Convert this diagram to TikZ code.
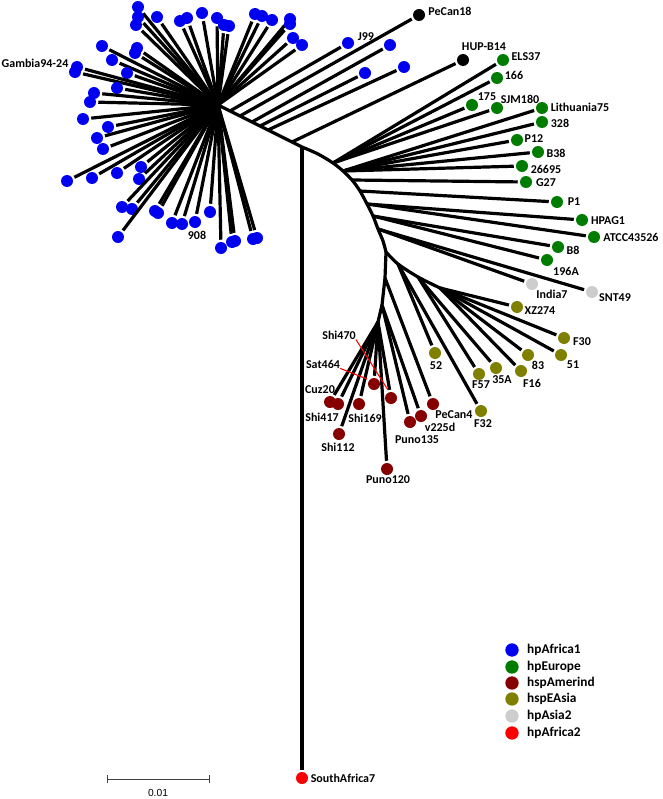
\documentclass[tikz,border=0pt]{standalone}
\usepackage{fontspec}
\setmainfont{Carlito}
\newfontfamily\barfont{Liberation Sans}
\usetikzlibrary{positioning,arrows.meta}
\definecolor{afrone}{RGB}{0,0,240}
\definecolor{europe}{RGB}{0,125,0}
\definecolor{amerind}{RGB}{135,0,0}
\definecolor{eastasia}{RGB}{128,128,0}
\definecolor{asiatwo}{RGB}{205,205,205}
\definecolor{afrtwo}{RGB}{250,0,0}
\begin{document}
\begin{tikzpicture}[
        x=0.75pt, y=-0.75pt,
        trunk/.style={draw, line width=2.4pt, line join=round},
        twig/.style={draw, line width=2.4pt, shorten >=1.5pt},
        dotbase/.style={circle, inner sep=0pt, minimum size=9pt},
        afr1/.style={dotbase, fill=afrone},
        eur/.style={dotbase, fill=europe},
        ame/.style={dotbase, fill=amerind},
        eas/.style={dotbase, fill=eastasia},
        as2/.style={dotbase, fill=asiatwo},
        afr2/.style={dotbase, fill=afrtwo},
        unk/.style={dotbase, fill=black},
        legdot/.style={minimum size=10pt},
        lab/.style={font=\bfseries\fontsize{9}{10}\selectfont, inner sep=0pt},
        keylab/.style={font=\bfseries\fontsize{10}{12}\selectfont, inner sep=0pt, anchor=west},
        pointer/.style={draw=red, line width=0.8pt},
        scalebar/.style={draw=black!75, line width=0.75pt, {Bar[width=6pt]}-{Bar[width=6pt]}},
    ]
    \useasboundingbox (0,0) rectangle (662,799);

    % inner nodes
    \coordinate (hub) at (218,105);
    \coordinate (r0) at (302,147);
    \coordinate (d1) at (230,111);
    \coordinate (d2) at (240,116);
    \coordinate (d3) at (252,122);
    \coordinate (d4) at (260,126);
    \coordinate (d5) at (268,130);
    \coordinate (d6) at (292,142);
    \coordinate (a1) at (318,154);
    \coordinate (a2) at (333,163);
    \coordinate (a3) at (343,171);
    \coordinate (a4) at (352,180);
    \coordinate (a5) at (360,191);
    \coordinate (a6) at (367,204);
    \coordinate (a7) at (373,216);
    \coordinate (a8) at (378,229);
    \coordinate (a9) at (383,241);
    \coordinate (nb) at (386,252);
    \coordinate (e1) at (398,264);
    \coordinate (e2) at (418,277);
    \coordinate (e3) at (440,288);
    \coordinate (m1) at (385,278);
    \coordinate (m2) at (382,305);
    \coordinate (m3) at (378,322);

    \draw[trunk] (hub) -- (r0);
    \draw[trunk] plot[smooth] coordinates {(r0) (a1) (a2) (a3) (a4) (a5) (a6) (a7) (a8) (a9) (nb)};
    \draw[trunk] plot[smooth] coordinates {(nb) (e1) (e2) (e3)};
    \draw[trunk] (nb) -- (m1) -- (m2) -- (m3);

    % hpAfrica1 star
    \foreach \px/\py [count=\i] in {138/7,138/17,136/25,157/17,180/21,187/18,202/13,217/18,224/25,229/26,
        255/14,262/16,272/20,290/19,290/24,293/38,302/45,102/46,137/48,135/53,112/60,75/72,127/73,
        117/88,94/93,90/102,83/119,108/127,97/138,103/149,67/181,92/178,117/173,141/167,139/179,
        122/207,132/209,155/211,158/213,172/223,182/224,210/212,118/237,221/248,232/242,235/241,
        253/239,257/238}
    {
        \node[afr1] (b\i) at (\px,\py) {};
        \draw[twig] (hub) -- (b\i);
    }
    \node[afr1] (gam) at (77,67) {};
    \draw[twig] (hub) -- (gam);
    \node[lab] (lgam) at (35,63) {Gambia94-24};
    \node[afr1] (n908) at (195,222) {};
    \draw[twig] (hub) -- (n908);
    \node[lab] (ln908) at (197,235) {908};
    \node[afr1] (j99) at (348,43) {};
    \draw[twig] (d1) -- (j99);
    \node[lab] (lj99) at (366,37) {J99};
    \node[afr1] (bj1) at (390,45) {};
    \draw[twig] (d3) -- (bj1);
    \node[afr1] (bj2) at (365,73) {};
    \draw[twig] (d4) -- (bj2);
    \node[afr1] (bj3) at (404,67) {};
    \draw[twig] (d5) -- (bj3);

    % unassigned
    \node[unk] (pecan18) at (419,15) {};
    \draw[twig] (d2) -- (pecan18);
    \node[lab] (lpecan18) at (450,11) {PeCan18};
    \node[unk] (hupb14) at (463,60) {};
    \draw[twig] (d6) -- (hupb14);
    \node[lab] (lhupb14) at (484,47) {HUP-B14};

    % hpEurope
    \node[eur] (els37) at (503,60) {};
    \draw[twig] (a2) -- (els37);
    \node[lab] (lels37) at (526,57) {ELS37};
    \node[eur] (g166) at (497,78) {};
    \draw[twig] (a2) -- (g166);
    \node[lab] (lg166) at (514,75) {166};
    \node[eur] (g175) at (472,105) {};
    \draw[twig] (a2) -- (g175);
    \node[lab] (lg175) at (487,97) {175};
    \node[eur] (sjm180) at (497,108) {};
    \draw[twig] (a2) -- (sjm180);
    \node[lab] (lsjm180) at (520,99) {SJM180};
    \node[eur] (lith75) at (542,108) {};
    \draw[twig] (a3) -- (lith75);
    \node[lab] (llith75) at (580,107) {Lithuania75};
    \node[eur] (g328) at (542,122) {};
    \draw[twig] (a3) -- (g328);
    \node[lab] (lg328) at (560,123) {328};
    \node[eur] (p12) at (517,140) {};
    \draw[twig] (a3) -- (p12);
    \node[lab] (lp12) at (534,139) {P12};
    \node[eur] (b38) at (538,152) {};
    \draw[twig] (a3) -- (b38);
    \node[lab] (lb38) at (556,153) {B38};
    \node[eur] (g26695) at (522,166) {};
    \draw[twig] (a3) -- (g26695);
    \node[lab] (lg26695) at (546,169) {26695};
    \node[eur] (g27) at (526,182) {};
    \draw[twig] (a4) -- (g27);
    \node[lab] (lg27) at (546,183) {G27};
    \node[eur] (p1) at (557,202) {};
    \draw[twig] (a5) -- (p1);
    \node[lab] (lp1) at (574,202) {P1};
    \node[eur] (hpag1) at (582,220) {};
    \draw[twig] (a6) -- (hpag1);
    \node[lab] (lhpag1) at (608,221) {HPAG1};
    \node[eur] (atcc) at (594,237) {};
    \draw[twig] (a6) -- (atcc);
    \node[lab] (latcc) at (631,237) {ATCC43526};
    \node[eur] (b8) at (558,247) {};
    \draw[twig] (a7) -- (b8);
    \node[lab] (lb8) at (573,250) {B8};
    \node[eur] (g196a) at (547,260) {};
    \draw[twig] (a7) -- (g196a);
    \node[lab] (lg196a) at (566,271) {196A};

    % hpAsia2
    \node[as2] (india7) at (532,284) {};
    \draw[twig] (a8) -- (india7);
    \node[lab] (lindia7) at (552,294) {India7};
    \node[as2] (snt49) at (592,292) {};
    \draw[twig] (a8) -- (snt49);
    \node[lab] (lsnt49) at (615,298) {SNT49};

    % hspEAsia
    \node[eas] (xz274) at (517,307) {};
    \draw[twig] (e3) -- (xz274);
    \node[lab] (lxz274) at (540,311) {XZ274};
    \node[eas] (f30) at (564,338) {};
    \draw[twig] (e3) -- (f30);
    \node[lab] (lf30) at (582,342) {F30};
    \node[eas] (e51) at (561,355) {};
    \draw[twig] (e3) -- (e51);
    \node[lab] (le51) at (573,365) {51};
    \node[eas] (e83) at (528,355) {};
    \draw[twig] (e3) -- (e83);
    \node[lab] (le83) at (538,365) {83};
    \node[eas] (f16) at (521,371) {};
    \draw[twig] (e3) -- (f16);
    \node[lab] (lf16) at (532,383) {F16};
    \node[eas] (a35) at (496,368) {};
    \draw[twig] (e2) -- (a35);
    \node[lab] (la35) at (502,380) {35A};
    \node[eas] (f57) at (479,374) {};
    \draw[twig] (e2) -- (f57);
    \node[lab] (lf57) at (481,385) {F57};
    \node[eas] (f32) at (481,411) {};
    \draw[twig] (e1) -- (f32);
    \node[lab] (lf32) at (483,424) {F32};
    \node[eas] (e52) at (435,353) {};
    \draw[twig] (e1) -- (e52);
    \node[lab] (le52) at (436,366) {52};

    % hspAmerind
    \node[ame] (pecan4) at (433,404) {};
    \draw[twig] (m1) -- (pecan4);
    \node[lab] (lpecan4) at (454,415) {PeCan4};
    \node[ame] (v225d) at (421,416) {};
    \draw[twig] (m2) -- (v225d);
    \node[lab] (lv225d) at (440,427) {v225d};
    \node[ame] (puno135) at (410,422) {};
    \draw[twig] (m2) -- (puno135);
    \node[lab] (lpuno135) at (417,440) {Puno135};
    \node[ame] (puno120) at (387,469) {};
    \draw[twig] (m3) -- (puno120);
    \node[lab] (lpuno120) at (388,480) {Puno120};
    \node[ame] (shi470) at (391,398) {};
    \draw[twig] (m3) -- (shi470);
    \node[lab] (lshi470) at (339,335) {Shi470};
    \node[ame] (sat464) at (374,384) {};
    \draw[twig] (m3) -- (sat464);
    \node[lab] (lsat464) at (323,364) {Sat464};
    \node[ame] (shi169) at (359,404) {};
    \draw[twig] (m3) -- (shi169);
    \node[lab] (lshi169) at (365,418) {Shi169};
    \node[ame] (shi417) at (338,404) {};
    \draw[twig] (m3) -- (shi417);
    \node[lab] (lshi417) at (322,417) {Shi417};
    \node[ame] (cuz20) at (330,402) {};
    \draw[twig] (m3) -- (cuz20);
    \node[lab] (lcuz20) at (320,390) {Cuz20};
    \node[ame] (shi112) at (339,434) {};
    \draw[twig] (m3) -- (shi112);
    \node[lab] (lshi112) at (338,447) {Shi112};
    \coordinate (pshi470) at (388,390);
    \coordinate (psat464) at (367,379);
    \draw[pointer] (lshi470.south east) -- (pshi470);
    \draw[pointer] (lsat464.south east) -- (psat464);

    % hpAfrica2
    \node[afr2] (sa7) at (302,778) {};
    \draw[twig] (r0) -- (sa7);
    \node[lab] (lsa7) at (343,778) {SouthAfrica7};

    % legend
    \node[afr1, legdot] (k1) at (512,650) {};
    \node[keylab, right=6pt of k1] (kt1) {hpAfrica1};
    \node[eur, legdot] (k2) at (512,667) {};
    \node[keylab, right=6pt of k2] (kt2) {hpEurope};
    \node[ame, legdot] (k3) at (512,683) {};
    \node[keylab, right=6pt of k3] (kt3) {hspAmerind};
    \node[eas, legdot] (k4) at (512,699) {};
    \node[keylab, right=6pt of k4] (kt4) {hspEAsia};
    \node[as2, legdot] (k5) at (512,716) {};
    \node[keylab, right=6pt of k5] (kt5) {hpAsia2};
    \node[afr2, legdot] (k6) at (512,733) {};
    \node[keylab, right=6pt of k6] (kt6) {hpAfrica2};

    % scale
    \coordinate (s0) at (107,779);
    \coordinate (s1) at (210,779);
    \draw[scalebar] (s0) -- (s1);
    \node[font=\barfont\fontsize{7.7}{9}\selectfont, inner sep=0pt] (ls) at (158,793) {0.01};
\end{tikzpicture}
\end{document}
